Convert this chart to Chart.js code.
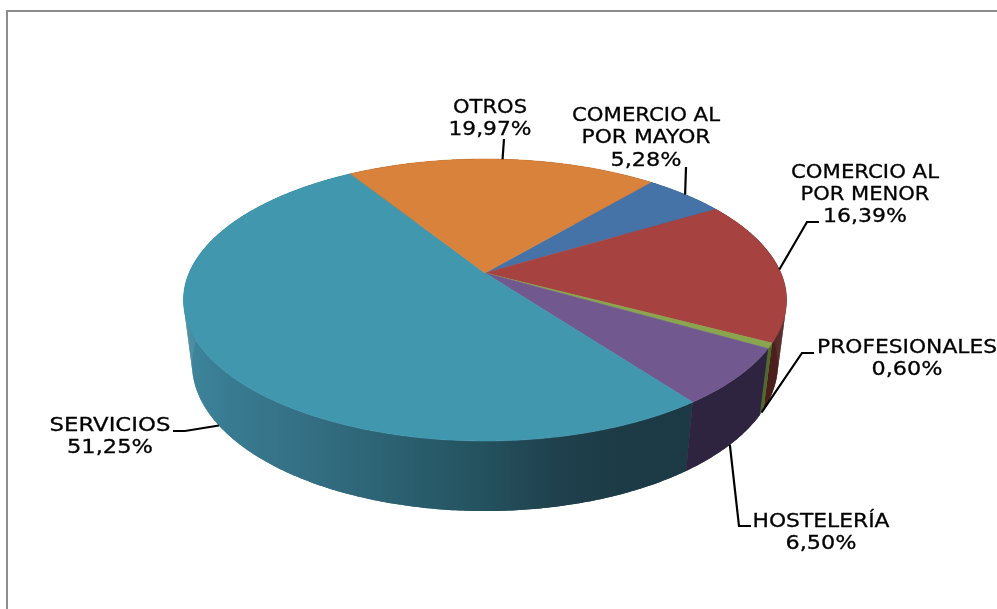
<!DOCTYPE html>
<html lang="es">
<head>
<meta charset="utf-8">
<title>Sectores</title>
<style>
  html, body { margin: 0; padding: 0; background: #fff; }
  canvas { display: block; }
</style>
</head>
<body>
<canvas id="chartCanvas" width="997" height="609"></canvas>
<script src="https://cdn.jsdelivr.net/npm/chart.js@4/dist/chart.umd.js"></script>
<script>
// --- Data ---
const categories = ["COMERCIO AL\nPOR MAYOR", "COMERCIO AL\nPOR MENOR", "PROFESIONALES", "HOSTELERÍA", "SERVICIOS", "OTROS"];
const shares = [5.28, 16.39, 0.60, 6.50, 51.25, 19.97];
const startAngle = 40;

// --- Style ---
const topColors = ["#4572a7", "#a64341", "#89a54e", "#71588f", "#4197ae", "#d9823c"];
const wallColors = [
  [[0, "#2a4565"]],
  [[0, "#4a1f1c"]],
  [[0, "#4f6a2b"]],
  [[0, "#2e2440"]],
  [[0, "#3d849b"], [0.08, "#387b91"], [0.22, "#347085"], [0.42, "#2b6070"], [0.58, "#24525f"], [0.74, "#1f404c"], [0.86, "#1c3b47"], [1, "#1b3a45"]],
  [[0, "#84501f"]]
];

// label centre x, text baselines, drawn text widths, and the leader elbow (if any)
const labelBoxes = [
  { x: 646, y: [121, 143, 166], w: [148, 129, 71], leader: [[686, 167]], plane: "top" },
  { x: 865, y: [178, 200, 222], w: [148, 129, 84], leader: [[819, 222], [807, 222]], plane: "top" },
  { x: 907, y: [353, 375], w: [180, 71], leader: [[814, 353], [802, 353]], plane: "bottom" },
  { x: 821, y: [527, 549], w: [137, 71], leader: [[751, 526], [739, 526]], plane: "bottom" },
  { x: 110, y: [431, 453], w: [121, 86], leader: [[173, 431], [185, 431]], plane: "bottom" },
  { x: 490, y: [113, 135], w: [74, 83], leader: [[504, 139]], plane: "top" }
];

// Perspective of the pie's top and bottom discs
const planes = {
  top: { x0: 485, y0: 273, a: 295.9, b: 135.8, k: 0.1915 },
  bottom: { x0: 485, y0: 336.5, a: 287.8, b: 141.9, k: 0.187 }
};

function project(angle, plane) {
  const p = planes[plane];
  const c = Math.cos(angle), s = Math.sin(angle);
  const w = 1 - p.k * s;
  return [p.x0 + p.a * c / w, p.y0 + p.b * s / w];
}

function rimPoints(a0, a1, plane) {
  const steps = Math.max(2, Math.ceil(Math.abs(a1 - a0) / 0.01));
  const pts = [];
  for (let i = 0; i <= steps; i++) pts.push(project(a0 + (a1 - a0) * i / steps, plane));
  return pts;
}

function tracePath(ctx, pts) {
  ctx.beginPath();
  pts.forEach((p, i) => i ? ctx.lineTo(p[0], p[1]) : ctx.moveTo(p[0], p[1]));
  ctx.closePath();
}

function wallFill(ctx, stops) {
  if (stops.length === 1) return stops[0][1];
  const g = ctx.createLinearGradient(190, 0, 690, 0);
  stops.forEach(s => g.addColorStop(s[0], s[1]));
  return g;
}

// Draws the slices from the arc elements Chart.js computed, in 3D
const pie3d = {
  id: "pie3d",
  beforeDraw(chart) {
    const ctx = chart.ctx;
    ctx.save();
    ctx.strokeStyle = "#8c8c8c";
    ctx.lineWidth = 2;
    ctx.beginPath();
    ctx.moveTo(7, 609);
    ctx.lineTo(7, 11);
    ctx.lineTo(997, 11);
    ctx.stroke();
    ctx.restore();
  },
  beforeDatasetDraw(chart) {
    const ctx = chart.ctx;
    const arcs = chart.getDatasetMeta(0).data;
    ctx.save();
    ctx.lineJoin = "round";

    // walls, back to front; small quads so the left and right silhouettes fill in
    const order = arcs.map((a, i) => i).sort((i, j) =>
      Math.sin((arcs[i].startAngle + arcs[i].endAngle) / 2) - Math.sin((arcs[j].startAngle + arcs[j].endAngle) / 2));
    order.forEach(i => {
      const a = arcs[i];
      const top = rimPoints(a.startAngle, a.endAngle, "top");
      const bottom = rimPoints(a.startAngle, a.endAngle, "bottom");
      const fill = wallFill(ctx, wallColors[i]);
      ctx.fillStyle = fill;
      for (let n = 0; n < top.length - 1; n++) {
        tracePath(ctx, [top[n], top[n + 1], bottom[n + 1], bottom[n]]);
        ctx.fill();
      }
      // second pass closes the seams between the quads
      tracePath(ctx, top.concat(bottom.slice().reverse()));
      ctx.fill();
    });

    // top face
    arcs.forEach((a, i) => {
      const pts = [[planes.top.x0, planes.top.y0]].concat(rimPoints(a.startAngle, a.endAngle, "top"));
      tracePath(ctx, pts);
      ctx.fillStyle = topColors[i];
      ctx.strokeStyle = topColors[i];
      ctx.lineWidth = 0.6;
      ctx.fill();
      ctx.stroke();
    });
    ctx.restore();
    return false; // the flat arcs are replaced by the above
  },
  afterDatasetsDraw(chart) {
    const ctx = chart.ctx;
    const arcs = chart.getDatasetMeta(0).data;
    ctx.save();
    ctx.fillStyle = "#000";
    ctx.strokeStyle = "#000";
    ctx.font = '20px "DejaVu Sans"';
    ctx.textAlign = "center";
    ctx.textBaseline = "alphabetic";

    arcs.forEach((a, i) => {
      const box = labelBoxes[i];
      const anchor = project((a.startAngle + a.endAngle) / 2, box.plane);
      ctx.lineWidth = 2.2;
      ctx.beginPath();
      box.leader.forEach((p, n) => n ? ctx.lineTo(p[0], p[1]) : ctx.moveTo(p[0], p[1]));
      ctx.lineTo(anchor[0], anchor[1]);
      ctx.stroke();

      const lines = categories[i].split("\n");
      lines.push(shares[i].toFixed(2).replace(".", ",") + "%");
      lines.forEach((t, n) => {
        // stretch each line to the width it has in the picture
        const sx = box.w[n] / ctx.measureText(t).width;
        ctx.save();
        ctx.translate(box.x, box.y[n]);
        ctx.scale(sx, 1);
        ctx.lineWidth = 0.3;
        ctx.fillText(t, 0, 0);
        ctx.strokeText(t, 0, 0);
        ctx.restore();
      });
    });
    ctx.restore();
  }
};

new Chart(document.getElementById("chartCanvas"), {
  type: "pie",
  data: {
    labels: categories,
    datasets: [{ data: shares, backgroundColor: topColors, borderWidth: 0 }]
  },
  options: {
    responsive: false,
    animation: false,
    rotation: startAngle,
    plugins: {
      legend: { display: false },
      tooltip: { enabled: false }
    }
  },
  plugins: [pie3d]
});
</script>
</body>
</html>
